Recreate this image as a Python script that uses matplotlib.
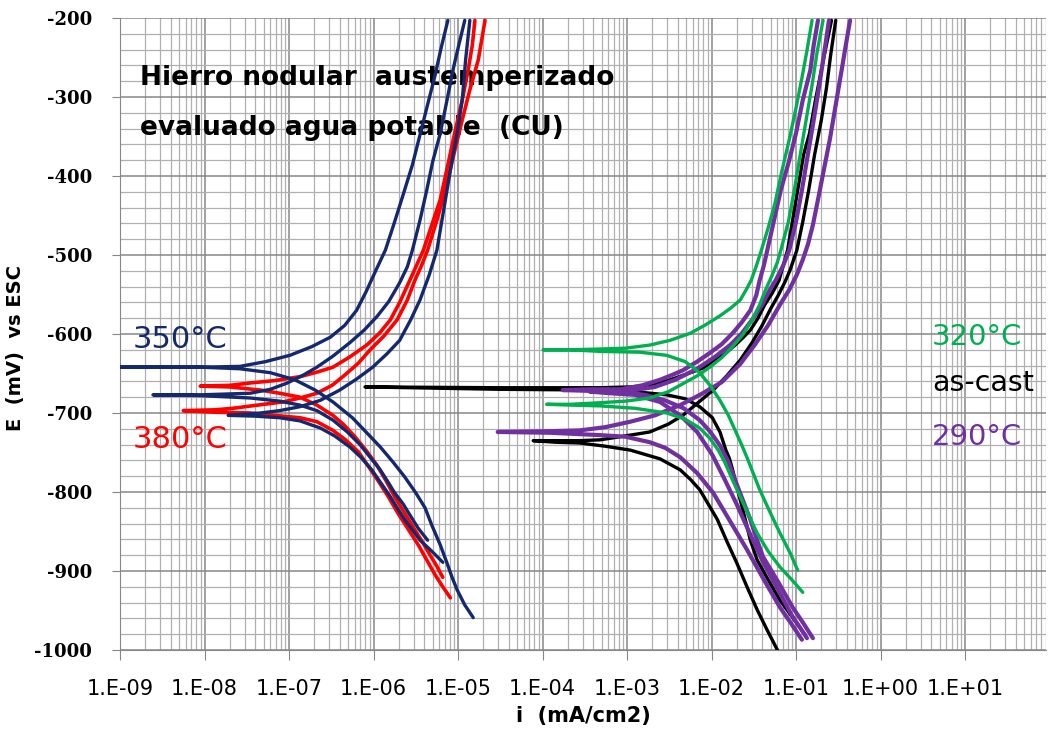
import numpy as np
import matplotlib.pyplot as plt
from matplotlib.ticker import FixedLocator, FuncFormatter, LogLocator, MultipleLocator

W, H = 1048, 733

# each scan: cathodic end -> Ecorr tip -> anodic end ; log10(i) with i in mA/cm2, E in mV vs ESC
# 350 C
n350_a_logi = [-4.82, -4.92, -5.01, -5.07, -5.13, -5.21, -5.31, -5.39, -5.50, -5.63, -5.77, -5.92,
               -6.08, -6.25, -6.48, -6.69, -6.93, -7.22, -7.58, -8.05, -9.00,
               -8.05, -7.58, -7.28, -6.99, -6.73, -6.51, -6.34, -6.20, -6.09, -5.97, -5.86,
               -5.75, -5.65, -5.54, -5.45, -5.37, -5.27, -5.20, -5.12]
n350_a_E = [-959, -943, -924, -908, -890, -867, -842, -820, -801, -781, -762, -743,
            -725, -706, -686, -671, -658, -649, -644, -642, -642,
            -642, -641, -635, -627, -616, -604, -589, -570, -547, -519, -494,
            -458, -424, -386, -348, -314, -272, -238, -203]
n350_b_logi = [-5.36, -5.47, -5.57, -5.65, -5.75, -5.83, -5.92, -6.04, -6.16, -6.31, -6.48, -6.67,
               -6.87, -7.11, -7.46, -8.05, -8.61,
               -8.05, -7.46, -7.22, -7.02, -6.83, -6.67, -6.48, -6.28, -6.11, -5.96, -5.82,
               -5.69, -5.60, -5.54, -5.45, -5.37, -5.30, -5.21, -5.13, -5.06, -4.99, -4.92]
n350_b_E = [-861, -846, -829, -815, -801, -787, -772, -756, -740, -724, -709, -697,
            -690, -685, -681, -678, -677,
            -677, -675, -670, -662, -652, -642, -628, -611, -595, -578, -559,
            -535, -515, -494, -456, -418, -382, -346, -304, -266, -234, -203]
n350_c_logi = [-5.18, -5.31, -5.45, -5.54, -5.63, -5.72, -5.80, -5.91, -6.02, -6.15, -6.28, -6.46,
               -6.63, -6.87, -7.11, -7.40, -7.72,
               -7.34, -7.11, -6.87, -6.63, -6.40, -6.20, -6.01, -5.84, -5.69, -5.56, -5.45,
               -5.34, -5.25, -5.19, -5.13, -5.07, -5.01, -4.95, -4.91, -4.86]
n350_c_E = [-889, -875, -861, -848, -835, -820, -806, -789, -772, -756, -743, -729,
            -719, -710, -706, -704, -703,
            -700, -697, -692, -684, -671, -657, -642, -625, -608, -582, -557,
            -525, -494, -456, -418, -380, -346, -304, -253, -203]

# 380 C
r380_a_logi = [-5.18, -5.25, -5.33, -5.41, -5.51, -5.63, -5.75, -5.85, -5.96, -6.09, -6.22, -6.35,
               -6.48, -6.67, -6.87, -7.11, -7.34, -7.70, -8.05,
               -7.70, -7.46, -7.17, -6.87, -6.66, -6.48, -6.28, -6.08, -5.93, -5.80, -5.69,
               -5.57, -5.49, -5.41, -5.31, -5.21, -5.12, -5.04, -4.95, -4.88, -4.83, -4.80]
r380_a_E = [-908, -894, -880, -865, -848, -827, -806, -786, -766, -747, -730, -715,
            -703, -690, -680, -675, -671, -667, -666,
            -665, -662, -659, -654, -648, -642, -629, -614, -599, -582, -560,
            -532, -513, -494, -462, -430, -386, -346, -304, -266, -234, -203]
r380_b_logi = [-5.09, -5.18, -5.27, -5.37, -5.47, -5.59, -5.71, -5.83, -5.95, -6.07, -6.18, -6.33,
               -6.48, -6.67, -6.87, -7.17, -7.46, -7.88, -8.25,
               -7.88, -7.66, -7.37, -7.07, -6.87, -6.67, -6.49, -6.34, -6.18, -6.04, -5.88,
               -5.72, -5.60, -5.51, -5.43, -5.36, -5.25, -5.15, -5.05, -4.95, -4.86, -4.76,
               -4.72, -4.68]
r380_b_E = [-934, -920, -905, -886, -867, -847, -827, -805, -785, -766, -749, -734,
            -722, -711, -706, -703, -700, -699, -697,
            -696, -694, -690, -686, -681, -675, -665, -652, -637, -620, -603,
            -582, -557, -532, -513, -494, -456, -418, -373, -329, -291, -253,
            -228, -203]

# 320 C
g320_a_logi = [-0.98, -1.07, -1.19, -1.31, -1.43, -1.50, -1.57, -1.64, -1.72, -1.80, -1.90, -2.01,
               -2.14, -2.31, -2.53, -2.85, -3.32, -3.67, -3.99,
               -3.67, -3.32, -3.02, -2.73, -2.49, -2.25, -2.08, -1.90, -1.77, -1.66, -1.59,
               -1.53, -1.47, -1.41, -1.33, -1.25, -1.17, -1.08, -1.00, -0.93, -0.87, -0.81]
g320_a_E = [-899, -877, -852, -825, -797, -778, -759, -741, -722, -703, -684, -666,
            -649, -635, -627, -623, -622, -620, -620,
            -620, -619, -618, -614, -608, -599, -589, -577, -567, -557, -544,
            -532, -514, -494, -466, -435, -395, -354, -314, -276, -241, -203]
g320_b_logi = [-0.92, -1.05, -1.19, -1.33, -1.46, -1.60, -1.75, -1.84, -1.92, -2.02, -2.14, -2.31,
               -2.53, -2.91, -3.32, -3.67, -3.95,
               -3.67, -3.32, -3.02, -2.73, -2.51, -2.34, -2.17, -2.02, -1.88, -1.75, -1.63,
               -1.52, -1.43, -1.36, -1.28, -1.22, -1.18, -1.09, -1.02, -0.95, -0.88, -0.81,
               -0.75, -0.68]
g320_b_E = [-927, -911, -895, -875, -852, -820, -785, -763, -747, -732, -719, -708,
            -700, -694, -691, -690, -689,
            -689, -687, -685, -681, -673, -663, -653, -642, -630, -616, -601,
            -582, -563, -544, -525, -509, -494, -458, -418, -373, -329, -285,
            -243, -203]

# as-cast
k_cast_a_logi = [-0.89, -1.04, -1.19, -1.33, -1.46, -1.54, -1.60, -1.66, -1.71, -1.75, -1.79, -1.83,
                 -1.90, -1.99, -2.14, -2.31, -2.53, -2.91, -3.32, -4.50, -6.10,
                 -4.50, -3.32, -2.96, -2.73, -2.49, -2.25, -2.10, -1.98, -1.84, -1.72, -1.63,
                 -1.54, -1.45, -1.37, -1.28, -1.20, -1.15, -1.10, -1.04, -0.98, -0.91, -0.84,
                 -0.77, -0.70, -0.64, -0.58]
k_cast_a_E = [-981, -959, -937, -911, -886, -861, -835, -810, -789, -772, -757, -747,
              -724, -706, -692, -682, -677, -673, -671, -670, -667,
              -668, -668, -667, -665, -658, -649, -643, -635, -625, -614, -605,
              -595, -580, -563, -548, -532, -513, -494, -456, -418, -373, -346,
              -304, -266, -234, -203]
k_cast_b_logi = [-1.22, -1.34, -1.46, -1.58, -1.70, -1.82, -1.93, -2.04, -2.14, -2.25, -2.37, -2.61,
                 -2.96, -3.26, -3.56, -3.85, -4.11,
                 -3.85, -3.56, -3.32, -3.02, -2.73, -2.51, -2.34, -2.16, -1.98, -1.82, -1.66,
                 -1.52, -1.40, -1.30, -1.21, -1.13, -1.07, -0.99, -0.92, -0.85, -0.78, -0.70,
                 -0.64, -0.59, -0.53]
k_cast_b_E = [-1000, -975, -949, -920, -890, -862, -835, -815, -797, -784, -772, -758,
              -747, -742, -738, -737, -735,
              -735, -735, -734, -729, -724, -714, -703, -687, -671, -653, -633,
              -611, -589, -568, -551, -534, -519, -494, -458, -418, -373, -329,
              -289, -247, -203]

# 290 C
p290_a_logi = [-0.93, -1.06, -1.19, -1.38, -1.58, -1.78, -1.98, -2.17, -2.37, -2.55, -2.73, -3.02,
               -3.32, -3.91, -4.53,
               -3.91, -3.56, -3.26, -2.96, -2.67, -2.37, -2.12, -1.88, -1.66, -1.49, -1.33,
               -1.19, -1.08, -0.99, -0.92, -0.86, -0.80, -0.74, -0.67, -0.60, -0.53, -0.46,
               -0.41, -0.36]
p290_a_E = [-987, -966, -946, -911, -873, -837, -801, -776, -756, -744, -737, -730,
            -728, -725, -724,
            -723, -722, -718, -711, -703, -690, -676, -661, -638, -614, -589,
            -563, -544, -525, -506, -487, -462, -430, -392, -354, -310, -266,
            -234, -203]
p290_b_logi = [-0.80, -0.92, -1.04, -1.21, -1.39, -1.47, -1.54, -1.63, -1.72, -1.80, -1.90, -2.02,
               -2.14, -2.33, -2.55, -2.79, -3.08, -3.44, -3.76,
               -3.44, -3.08, -2.82, -2.61, -2.47, -2.34, -2.17, -2.02, -1.88, -1.75, -1.64,
               -1.54, -1.47, -1.43, -1.38, -1.34, -1.26, -1.18, -1.08, -1.00, -0.92, -0.83,
               -0.79, -0.74]
p290_b_E = [-985, -965, -946, -914, -882, -858, -835, -810, -785, -762, -741, -723,
            -709, -694, -684, -677, -673, -672, -671,
            -670, -670, -665, -658, -652, -646, -635, -624, -613, -599, -585,
            -570, -551, -532, -513, -494, -456, -418, -380, -346, -304, -266,
            -234, -203]
p290_c_logi = [-0.87, -1.05, -1.21, -1.39, -1.54, -1.70, -1.84, -1.99, -2.17, -2.37, -2.61, -2.91,
               -3.20, -3.44,
               -3.20, -2.91, -2.67, -2.43, -2.17, -1.96, -1.78, -1.64, -1.52, -1.40, -1.31,
               -1.24, -1.15, -1.08, -1.00, -0.93, -0.86, -0.79, -0.73, -0.67, -0.61]
p290_c_E = [-985, -956, -924, -889, -854, -816, -785, -753, -724, -703, -686, -677,
            -675, -673,
            -672, -671, -667, -658, -644, -629, -614, -599, -582, -563, -544,
            -532, -513, -494, -458, -418, -373, -329, -289, -247, -203]

x_ticks_exp = list(range(-9, 2))
y_ticks = list(range(-1000, -199, 100))

navy = "#14286e"
red = "#ff0000"
green = "#00b050"
purple = "#7030a0"


def fig_xy(x, y):
    return x / W, 1 - y / H


def main():
    fig = plt.figure(figsize=(W / 100, H / 100), dpi=100)
    ax = fig.add_axes([120 / W, 1 - 650 / H, (1046 - 120) / W, 632 / H])

    curves = [
        (k_cast_a_logi, k_cast_a_E, "black", 2.4),
        (k_cast_b_logi, k_cast_b_E, "black", 2.4),
        (p290_a_logi, p290_a_E, purple, 3.0),
        (p290_b_logi, p290_b_E, purple, 3.0),
        (p290_c_logi, p290_c_E, purple, 3.0),
        (g320_a_logi, g320_a_E, green, 2.4),
        (g320_b_logi, g320_b_E, green, 2.4),
        (r380_a_logi, r380_a_E, red, 2.6),
        (r380_b_logi, r380_b_E, red, 2.6),
        (n350_a_logi, n350_a_E, navy, 2.4),
        (n350_b_logi, n350_b_E, navy, 2.4),
        (n350_c_logi, n350_c_E, navy, 2.4),
    ]
    for logi, E, c, lw in curves:
        ax.plot(10.0 ** np.array(logi), E, color=c, lw=lw, solid_joinstyle="round",
                solid_capstyle="round", zorder=3)

    ax.set_xscale("log")
    ax.set_xlim(1e-9, 10 ** (-9 + (1046 - 120) / 84.5))
    ax.set_ylim(-1000, -200)

    ax.xaxis.set_major_locator(FixedLocator([10.0 ** e for e in x_ticks_exp]))
    ax.xaxis.set_minor_locator(LogLocator(base=10, subs=range(2, 10), numticks=30))
    ax.xaxis.set_major_formatter(FuncFormatter(
        lambda v, p: "1.E%+03d" % int(round(np.log10(v)))))
    ax.yaxis.set_major_locator(FixedLocator(y_ticks))
    ax.yaxis.set_minor_locator(MultipleLocator(20))
    ax.yaxis.set_major_formatter(FuncFormatter(lambda v, p: "%d" % v))

    ax.grid(which="major", color="#878787", lw=1.1, zorder=0)
    ax.grid(which="minor", color="#b0b0b0", lw=0.9, zorder=0)
    ax.set_axisbelow(True)
    for s in ["top", "right"]:
        ax.spines[s].set_visible(False)
    for s in ["left", "bottom"]:
        ax.spines[s].set_color("#878787")

    ax.tick_params(axis="x", which="major", length=7, color="#878787", pad=14,
                   labelsize=15)
    ax.tick_params(axis="y", which="major", length=6, color="#878787", pad=14,
                   labelsize=13)
    ax.tick_params(which="minor", length=0)
    for lab in ax.get_yticklabels():
        lab.set_fontfamily("DejaVu Serif")
        lab.set_fontweight("bold")

    fig.text(*fig_xy(583, 716), "i  (mA/cm2)", ha="center", va="center",
             fontsize=15, fontweight="bold")
    fig.text(*fig_xy(16, 348), "E  (mV)  vs ESC", ha="center", va="center",
             rotation=90, fontsize=14, fontweight="bold")

    # title sits under the curves, as in the source chart
    ax.text(*fig_xy(140, 78), "Hierro nodular  austemperizado", transform=fig.transFigure,
            ha="left", va="center", fontsize=19, fontweight="bold", zorder=2)
    ax.text(*fig_xy(140, 128), "evaluado agua potable  (CU)", transform=fig.transFigure,
            ha="left", va="center", fontsize=19, fontweight="bold", zorder=2)

    fig.text(*fig_xy(133, 340), "350°C", color=navy, ha="left", va="center", fontsize=22)
    fig.text(*fig_xy(133, 440), "380°C", color=red, ha="left", va="center", fontsize=22)
    fig.text(*fig_xy(932, 337), "320°C", color=green, ha="left", va="center", fontsize=21)
    fig.text(*fig_xy(932, 383), "as-cast", color="black", ha="left", va="center",
             fontsize=20.5)
    fig.text(*fig_xy(932, 437), "290°C", color=purple, ha="left", va="center", fontsize=21)

    fig.savefig("out.png", dpi=100)


main()
